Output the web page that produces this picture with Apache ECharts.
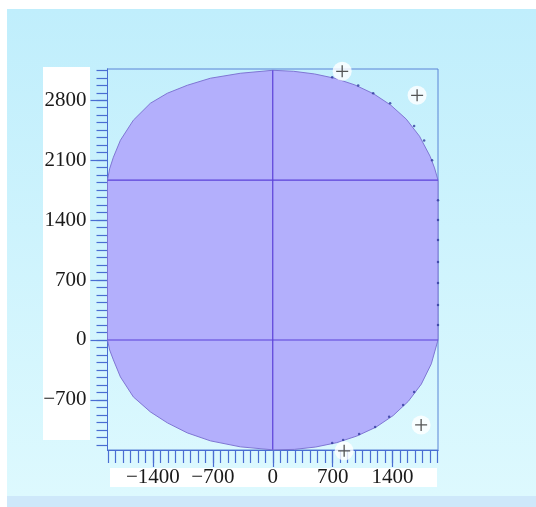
<!DOCTYPE html>
<html><head><meta charset="utf-8">
<script src="https://cdn.jsdelivr.net/npm/echarts@6/dist/echarts.min.js"></script>
<style>html,body{margin:0;padding:0;background:#fff}#c{width:536px;height:507px}</style>
</head><body><div id="c"></div>
<script>
// ---- tick labels ----
const xTickLabels = [-1400, -700, 0, 700, 1400];
const yTickLabels = [-700, 0, 700, 1400, 2100, 2800];
const xMinorTicks = [-1925,-1837.5,-1750,-1662.5,-1575,-1487.5,-1400,-1312.5,-1225,-1137.5,-1050,-962.5,-875,-787.5,-700,-612.5,-525,-437.5,-350,-262.5,-175,-87.5,0,87.5,175,262.5,350,437.5,525,612.5,700,787.5,875,962.5,1050,1137.5,1225,1312.5,1400,1487.5,1575,1662.5,1750,1837.5,1925];
const yMinorTicks = [-1225,-1137.5,-1050,-962.5,-875,-787.5,-700,-612.5,-525,-437.5,-350,-262.5,-175,-87.5,0,87.5,175,262.5,350,437.5,525,612.5,700,787.5,875,962.5,1050,1137.5,1225,1312.5,1400,1487.5,1575,1662.5,1750,1837.5,1925,2012.5,2100,2187.5,2275,2362.5,2450,2537.5,2625,2712.5,2800,2887.5,2975,3062.5,3150];

// ---- shape boundary ----
const topLeft = [[-1930,1867],[-1905,2000],[-1861,2135],[-1779,2333],[-1628,2567],[-1429,2765],[-1231,2882],[-998,2975],[-729,3057],[-379,3115],[0,3150]];
const topRight = [[245,3138],[488,3107],[728,3056],[959,2979],[1177,2876],[1378,2743],[1559,2580],[1714,2380],[1839,2143],[1889,2010],[1930,1867]];
const bottomRight = [[1930,0],[1852,-278],[1735,-516],[1584,-716],[1406,-883],[1204,-1019],[982,-1122],[748,-1199],[502,-1250],[252,-1278],[0,-1283]];
const bottomLeft = [[-379,-1248],[-729,-1178],[-998,-1085],[-1231,-968],[-1429,-840],[-1628,-665],[-1779,-432],[-1861,-233],[-1905,-117],[-1930,0]];

// inner lines
const hLine1 = [[-1930,1867],[1930,1867]];
const hLine2 = [[-1930,0],[1930,0]];
const vLine = [[0,-1283],[0,3150]];

// small point markers on right half
const rightDots = [[694,3070],[998,2972],[1173,2882],[1371,2765],[1651,2500],[1768,2330],[1861,2100],
  [1930,1633],[1930,1400],[1930,1167],[1930,910],[1930,665],[1930,408],[1930,175],
  [1651,-607],[1523,-758],[1359,-898],[1196,-1015],[1009,-1097],[822,-1167],[694,-1202]];

// control handles
const handles = [[811,3138],[1686,2858],[1733,-992],[834,-1295]];

const shape = topLeft.concat(topRight, bottomRight, bottomLeft);

const fmt = v => v < 0 ? '\u2212' + Math.abs(v) : String(v);
const axisBlue = '#4a6ed2';
const labelStyle = {fontSize: 21, fontFamily: 'Liberation Serif', color: '#1a1a1a'};

const chart = echarts.init(document.getElementById('c'), null, {renderer: 'canvas'});
chart.setOption({
  animation: false,
  backgroundColor: '#ffffff',
  graphic: [
    {type: 'rect', z: -100, shape: {x: 7, y: 9, width: 529, height: 487},
     style: {fill: new echarts.graphic.LinearGradient(0, 0, 0, 1, [{offset: 0, color: '#c0eefc'}, {offset: 1, color: '#ddf9fe'}])}},
    {type: 'rect', z: -100, shape: {x: 7, y: 496, width: 529, height: 11}, style: {fill: '#cee8fa'}},
    {type: 'rect', z: -50, shape: {x: 43, y: 67, width: 47, height: 373}, style: {fill: '#ffffff'}},
    {type: 'rect', z: -50, shape: {x: 110, y: 468, width: 327, height: 19}, style: {fill: '#ffffff'}}
  ],
  grid: {left: 107.5, top: 69, right: 98, bottom: 57, show: true, borderColor: '#5b84d6', borderWidth: 1, backgroundColor: 'transparent'},
  xAxis: [
    {type: 'value', min: -1930, max: 1930, position: 'bottom',
     axisLine: {show: true, onZero: false, lineStyle: {color: axisBlue, width: 1}},
     axisTick: {show: true, customValues: xMinorTicks, length: 13, lineStyle: {color: axisBlue, width: 1.2}},
     axisLabel: {show: false}, splitLine: {show: false}},
    {type: 'value', min: -1930, max: 1930, position: 'bottom',
     axisLine: {show: true, onZero: false, lineStyle: {color: axisBlue, width: 1}},
     axisTick: {show: true, customValues: xTickLabels, length: 17, lineStyle: {color: axisBlue, width: 1.2}},
     axisLabel: Object.assign({show: true, customValues: xTickLabels, formatter: fmt, margin: 17,
       showMinLabel: true, showMaxLabel: true}, labelStyle),
     splitLine: {show: false}}
  ],
  yAxis: [
    {type: 'value', min: -1285, max: 3165, position: 'left',
     axisLine: {show: true, onZero: false, lineStyle: {color: axisBlue, width: 1}},
     axisTick: {show: true, customValues: yMinorTicks, length: 11, lineStyle: {color: axisBlue, width: 1.2}},
     axisLabel: {show: false}, splitLine: {show: false}},
    {type: 'value', min: -1285, max: 3165, position: 'left',
     axisLine: {show: true, onZero: false, lineStyle: {color: axisBlue, width: 1}},
     axisTick: {show: true, customValues: yTickLabels, length: 17, lineStyle: {color: axisBlue, width: 1.2}},
     axisLabel: Object.assign({show: true, customValues: yTickLabels, formatter: fmt, margin: 21,
       showMinLabel: true, showMaxLabel: true}, labelStyle),
     splitLine: {show: false}}
  ],
  series: [
    {type: 'custom', xAxisIndex: 0, yAxisIndex: 0, data: [[0, 0]], z: 1,
     renderItem: function (params, api) {
       const pts = shape.map(p => api.coord(p));
       return {type: 'polygon', shape: {points: pts}, style: {fill: '#b3affc', stroke: '#7f76d4', lineWidth: 1}};
     }},
    {type: 'line', data: hLine1, symbol: 'none', lineStyle: {color: '#5b40d8', width: 1.2}, z: 3},
    {type: 'line', data: hLine2, symbol: 'none', lineStyle: {color: '#5b40d8', width: 1.2}, z: 3},
    {type: 'line', data: vLine, symbol: 'none', lineStyle: {color: '#5b40d8', width: 1.2}, z: 3},
    {type: 'scatter', data: rightDots, symbol: 'circle', symbolSize: 2.5, itemStyle: {color: '#2f3a9e'}, z: 4},
    {type: 'scatter', data: handles, symbol: 'circle', symbolSize: 19, clip: false, itemStyle: {color: '#ffffff'}, z: 5},
    {type: 'scatter', data: handles, symbol: 'path://M0,6H12M6,0V12', symbolSize: 12, clip: false,
     itemStyle: {color: 'none', borderColor: '#2a2a2a', borderWidth: 1.3}, z: 6}
  ]
});
</script></body></html>
